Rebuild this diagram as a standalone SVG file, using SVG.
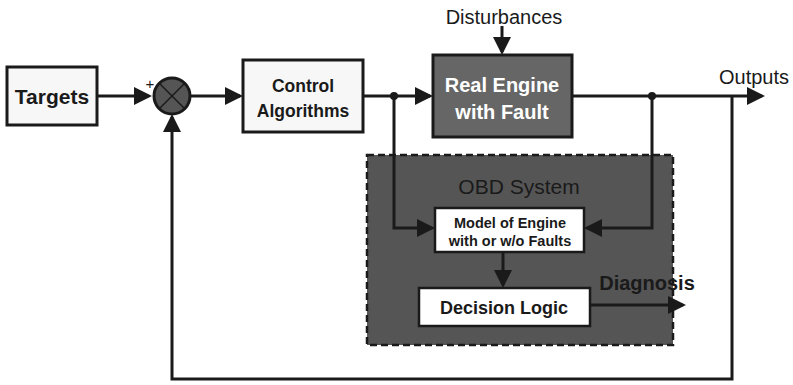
<svg xmlns="http://www.w3.org/2000/svg" width="793" height="385" viewBox="0 0 793 385">
<style>
.box{fill:#f7f7f7;stroke:#1a1a1a;stroke-width:3}
.ln{fill:none;stroke:#1a1a1a;stroke-width:3}
.b{font-family:"Liberation Sans",Arial,sans-serif;font-weight:bold;fill:#1a1a1a;text-anchor:middle}
.r{font-family:"Liberation Sans",Arial,sans-serif;fill:#1a1a1a}
</style>
<defs>
<marker id="ah" markerWidth="6" markerHeight="6" refX="5" refY="3" orient="auto" markerUnits="strokeWidth">
<path d="M0,0 L6,3 L0,6 z" fill="#1a1a1a"/>
</marker>
</defs>
<rect width="793" height="385" fill="#ffffff"/>
<g id="obd">
<rect x="367" y="155" width="306" height="190" fill="#555555" stroke="#1a1a1a" stroke-width="2.5" stroke-dasharray="7,4"/>
<text x="519" y="194" class="r" font-size="21" text-anchor="middle" fill="#222222">OBD System</text>
</g>
<g id="connectors">
<path class="ln" d="M97,96 H149" marker-end="url(#ah)"/>
<path class="ln" d="M190,96 H240" marker-end="url(#ah)"/>
<path class="ln" d="M363,96 H430" marker-end="url(#ah)"/>
<path class="ln" d="M502,26 V52" marker-end="url(#ah)"/>
<path class="ln" d="M572,96 H762" marker-end="url(#ah)"/>
<path class="ln" d="M394,96 V228 H432" marker-end="url(#ah)"/>
<path class="ln" d="M652,96 V228 H587" marker-end="url(#ah)"/>
<path class="ln" d="M503,252 V285" marker-end="url(#ah)"/>
<path class="ln" d="M590,305 H683" marker-end="url(#ah)"/>
<path class="ln" d="M732,96 V379 H172 V117" marker-end="url(#ah)"/>
<circle cx="394" cy="96" r="4" fill="#1a1a1a"/>
<circle cx="652" cy="96" r="4" fill="#1a1a1a"/>
</g>
<g id="targets">
<rect class="box" x="7" y="67" width="90" height="58"/>
<text x="52" y="104" class="b" font-size="21">Targets</text>
</g>
<g id="sum">
<circle cx="172" cy="96" r="18" fill="#555555" stroke="#1a1a1a" stroke-width="3"/>
<path d="M159,83 L185,109 M185,83 L159,109" stroke="#1a1a1a" stroke-width="1.5"/>
<text x="150" y="89" class="r" font-size="15" text-anchor="middle">+</text>
</g>
<g id="control">
<rect class="box" x="243" y="60" width="120" height="72"/>
<text x="303" y="92" class="b" font-size="17.5">Control</text>
<text x="303" y="117" class="b" font-size="17.5">Algorithms</text>
</g>
<g id="engine">
<rect x="433" y="55" width="139" height="82" fill="#666666" stroke="#1a1a1a" stroke-width="3"/>
<text x="502" y="92" class="b" font-size="20" style="fill:#ffffff">Real Engine</text>
<text x="502" y="119" class="b" font-size="20" style="fill:#ffffff">with Fault</text>
</g>
<g id="disturbances">
<text x="504" y="24" class="r" font-size="20" text-anchor="middle">Disturbances</text>
</g>
<g id="outputs">
<text x="719" y="84" class="r" font-size="20">Outputs</text>
</g>
<g id="model">
<rect x="435" y="208" width="149" height="44" fill="#ffffff" stroke="#1a1a1a" stroke-width="2.5"/>
<text x="510" y="228" class="b" font-size="14.5">Model of Engine</text>
<text x="510" y="246" class="b" font-size="14.5">with or w/o Faults</text>
</g>
<g id="decision">
<rect x="419" y="288" width="171" height="38" fill="#ffffff" stroke="#1a1a1a" stroke-width="2.5"/>
<text x="504" y="314" class="b" font-size="18">Decision Logic</text>
</g>
<g id="diagnosis">
<text x="647" y="290" class="b" font-size="20">Diagnosis</text>
</g>
</svg>
